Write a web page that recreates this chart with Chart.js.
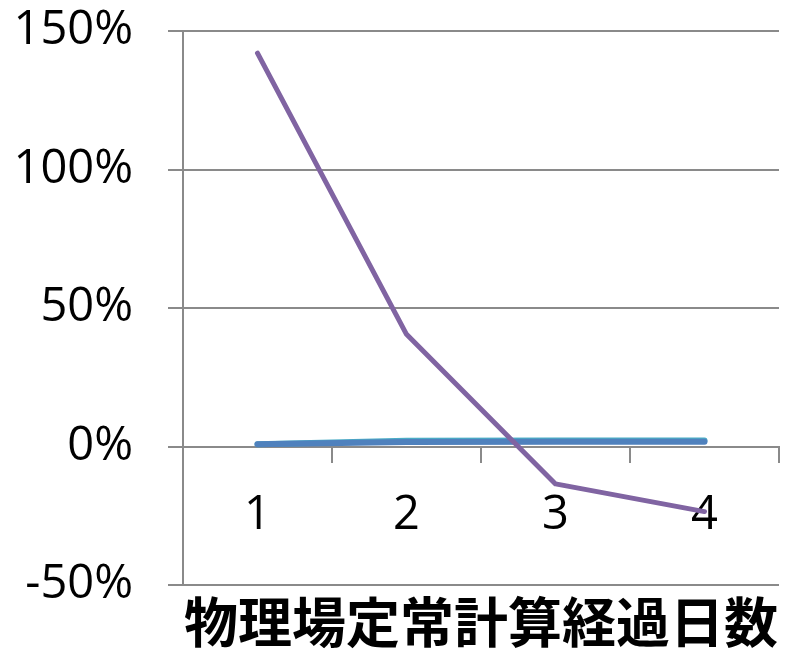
<!doctype html>
<html lang="ja">
<head>
  <meta charset="utf-8">
  <title>物理場定常計算経過日数</title>
  <script src="https://cdn.jsdelivr.net/npm/chart.js"></script>
  <style>
    html, body { margin: 0; padding: 0; background: #fff; }
    #wrap { width: 787px; height: 649px; position: relative; }
  </style>
</head>
<body>
  <div id="wrap"><canvas id="errChart"></canvas></div>

  <script>
    // elapsed days and relative change (%) per series
    const days      = ['1', '2', '3', '4'];
    const purpleVal = [142, 40.5, -13.5, -23.5];
    const blueVal   = [0.8, 1.6, 1.7, 1.7];
    const tealVal   = [0.8, 2.1, 2.2, 2.2];
    const yTicks    = [-50, 0, 50, 100, 150];

    const gridGray = '#8a8a8a';
    const labelFont = { family: "'Open Sans', 'Liberation Sans', sans-serif", size: 47 };

    function lineSet(data, color, width) {
      return {
        data: data,
        borderColor: color,
        backgroundColor: color,
        borderWidth: width,
        pointRadius: 0,
        tension: 0,
        borderCapStyle: 'round',
        borderJoinStyle: 'round'
      };
    }

    const ctx = document.getElementById('errChart').getContext('2d');
    new Chart(ctx, {
      type: 'line',
      data: {
        labels: days,
        // first dataset is painted last (on top)
        datasets: [
          lineSet(purpleVal, '#8064A2', 5),
          lineSet(blueVal,   '#4F81BD', 6),
          lineSet(tealVal,   '#4BACC6', 6)
        ]
      },
      options: {
        responsive: true,
        maintainAspectRatio: false,
        animation: false,
        layout: { padding: { top: 31, right: 8, bottom: 0, left: 0 } },
        plugins: {
          legend: { display: false },
          tooltip: { enabled: false }
        },
        scales: {
          y: {
            min: yTicks[0],
            max: yTicks[yTicks.length - 1],
            afterBuildTicks: s => { s.ticks = yTicks.map(v => ({ value: v })); },
            afterFit: s => {
              s.width = 183;
              s.paddingTop = 0;
              s.paddingBottom = 0;
            },
            ticks: {
              color: '#000',
              font: labelFont,
              padding: 35,
              callback: v => v + '%'
            },
            grid: { color: gridGray, lineWidth: 2, tickLength: 15 },
            border: { color: gridGray, width: 2 }
          },
          x: {
            type: 'category',
            position: { y: 0 },
            offset: true,
            ticks: { color: '#000', font: labelFont, padding: 26 },
            grid: {
              offset: true,
              drawOnChartArea: false,
              color: gridGray,
              lineWidth: 2,
              tickLength: 15
            },
            border: { color: gridGray, width: 2 }
          },
          xTitle: {
            type: 'category',
            position: 'bottom',
            ticks: { display: false },
            grid: { display: false, drawTicks: false },
            border: { display: false },
            title: {
              display: true,
              text: '物理場定常計算経過日数',
              color: '#000',
              font: { family: "'Noto Sans CJK JP', sans-serif", size: 54, weight: 'bold', lineHeight: 1 },
              padding: { top: 10, bottom: 0 }
            }
          }
        }
      }
    });
  </script>
</body>
</html>
